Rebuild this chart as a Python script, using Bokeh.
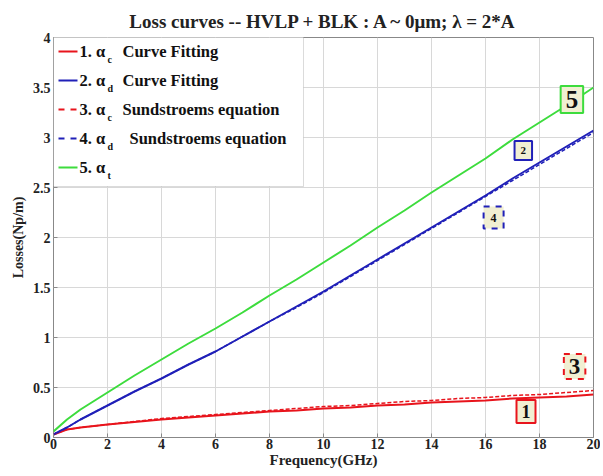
from bokeh.plotting import figure
from bokeh.models import Label, Arrow, BoxAnnotation, FixedTicker, Range1d
from bokeh.embed import file_html
from bokeh.resources import INLINE

# ---- data ----
freq = [0, 0.5, 1, 2, 3, 4, 5, 6, 7, 8, 9, 10, 11, 12, 13, 14, 15, 16, 17, 18, 19, 20]
alpha_c_fit = [0.03, 0.08, 0.10, 0.13, 0.155, 0.18, 0.20, 0.22, 0.24, 0.26, 0.27, 0.29,
               0.30, 0.32, 0.33, 0.35, 0.36, 0.37, 0.39, 0.40, 0.41, 0.43]
alpha_d_fit = [0.03, 0.10, 0.18, 0.32, 0.46, 0.59, 0.73, 0.86, 1.01, 1.16, 1.31, 1.46,
               1.62, 1.78, 1.94, 2.10, 2.26, 2.42, 2.59, 2.75, 2.91, 3.07]
alpha_c_sund = [0.03, 0.08, 0.10, 0.13, 0.16, 0.19, 0.21, 0.23, 0.25, 0.27, 0.29, 0.31,
                0.32, 0.34, 0.36, 0.37, 0.39, 0.40, 0.42, 0.43, 0.45, 0.47]
alpha_d_sund = [0.03, 0.10, 0.18, 0.32, 0.46, 0.59, 0.73, 0.86, 1.01, 1.16, 1.30, 1.45,
                1.61, 1.77, 1.93, 2.09, 2.25, 2.41, 2.57, 2.73, 2.89, 3.05]
alpha_t = [0.06, 0.18, 0.28, 0.45, 0.62, 0.78, 0.94, 1.09, 1.25, 1.42, 1.58, 1.75,
           1.92, 2.10, 2.27, 2.45, 2.62, 2.79, 2.98, 3.15, 3.32, 3.50]

x_ticks = [0, 2, 4, 6, 8, 10, 12, 14, 16, 18, 20]
y_ticks = [0, 0.5, 1, 1.5, 2, 2.5, 3, 3.5, 4]
y_tick_labels = ["0", "0.5", "1", "1.5", "2", "2.5", "3", "3.5", "4"]

legend_labels = [("1. α", "c", "Curve Fitting"),
                 ("2. α", "d", "Curve Fitting"),
                 ("3. α", "c", "Sundstroems equation"),
                 ("4. α", "d", "Sundstroems equation"),
                 ("5. α", "t", "")]

# callout tags: (text, x, y)
tags = [("1", 17.5, 0.26), ("2", 17.4, 2.87), ("3", 19.3, 0.71), ("4", 16.3, 2.20), ("5", 19.2, 3.38)]

RED = "#e8141c"
BLUE = "#2020b8"
GREEN = "#3ddc3d"
FONT = "Liberation Serif"

W, H = 600, 470
p = figure(width=W, height=H, output_backend="svg", toolbar_location=None,
           x_range=Range1d(0, 20), y_range=Range1d(0, 4),
           min_border_left=53, min_border_right=7, min_border_top=37, min_border_bottom=32,
           title="Loss curves -- HVLP + BLK : A ~ 0μm; λ = 2*A")
p.title.align = "center"
p.title.text_font = FONT
p.title.text_font_size = "19px"
p.title.text_font_style = "bold"
p.title.text_color = "#222222"
p.title.standoff = 12

p.outline_line_color = "#888888"
p.outline_line_width = 1
p.grid.grid_line_color = "#d8d8d8"
p.xaxis.ticker = FixedTicker(ticks=x_ticks)
p.yaxis.ticker = FixedTicker(ticks=y_ticks)
p.yaxis.major_label_overrides = {t: s for t, s in zip(y_ticks, y_tick_labels)}
for ax in (p.xaxis[0], p.yaxis[0]):
    ax.axis_line_color = None
    ax.major_tick_in = 4
    ax.major_tick_out = 0
    ax.major_tick_line_color = "#888888"
    ax.minor_tick_line_color = None
    ax.major_label_text_font = FONT
    ax.major_label_text_font_style = "bold"
    ax.major_label_text_font_size = "14px"
    ax.major_label_text_color = "#222222"
    ax.axis_label_text_font = FONT
    ax.axis_label_text_font_style = "bold"
    ax.axis_label_text_color = "#222222"
p.xaxis.axis_label = "Frequency(GHz)"
p.xaxis.axis_label_text_font_size = "15px"
p.xaxis.axis_label_standoff = 0
p.xaxis.major_label_standoff = 1
p.yaxis.axis_label = "Losses(Np/m)"
p.yaxis.axis_label_text_font_size = "14px"
p.yaxis.axis_label_standoff = 4
p.yaxis.major_label_standoff = 3

p.line(freq, alpha_c_fit, line_color=RED, line_width=2)
p.line(freq, alpha_d_fit, line_color=BLUE, line_width=2)
p.line(freq, alpha_c_sund, line_color=RED, line_width=1.5, line_dash="4 2")
p.line(freq, alpha_d_sund, line_color=BLUE, line_width=1.5, line_dash="4 2")
p.line(freq, alpha_t, line_color=GREEN, line_width=2)

# callout tags
tag_styles = {
    "1": dict(color=RED, dash="solid", size="18px", pad=5),
    "2": dict(color=BLUE, dash="solid", size="11px", pad=6),
    "3": dict(color=RED, dash="dashed", size="23px", pad=5),
    "4": dict(color=BLUE, dash="dashed", size="12px", pad=7),
    "5": dict(color=GREEN, dash="solid", size="25px", pad=5),
}
for t, tx, ty in tags:
    st = tag_styles[t]
    p.add_layout(Label(x=tx, y=ty, text=t, text_align="center", text_baseline="middle",
                       text_font=FONT, text_font_style="bold", text_font_size=st["size"],
                       text_color="#111111", background_fill_color="#f1efd2",
                       border_line_color=st["color"], border_line_width=2,
                       border_line_dash=st["dash"], padding=st["pad"]))

# custom legend (screen units, relative to the plot frame, y measured upward)
p.add_layout(BoxAnnotation(left=0, right=250, top=401, bottom=251,
                           left_units="screen", right_units="screen",
                           top_units="screen", bottom_units="screen",
                           fill_color="white", fill_alpha=1.0,
                           line_color="#888888", line_width=1))
legend_styles = [(RED, "solid"), (BLUE, "solid"), (RED, "dashed"), (BLUE, "dashed"), (GREEN, "solid")]
rest_offsets = [69, 69, 69, 76, 69]
for i, ((a, sub, rest), (col, dash)) in enumerate(zip(legend_labels, legend_styles)):
    yrow = 386 - 29 * i
    p.add_layout(Arrow(x_start=5, y_start=yrow, x_end=24, y_end=yrow,
                       start_units="screen", end_units="screen", end=None,
                       line_color=col, line_width=2, line_dash=dash))
    p.add_layout(Label(x=26, y=yrow, x_units="screen", y_units="screen", text=a,
                       text_baseline="middle", text_font=FONT, text_font_style="bold",
                       text_font_size="16.5px", text_color="#111111"))
    p.add_layout(Label(x=54, y=yrow - 8, x_units="screen", y_units="screen", text=sub,
                       text_baseline="middle", text_font=FONT, text_font_style="bold",
                       text_font_size="10px", text_color="#111111"))
    if rest:
        p.add_layout(Label(x=rest_offsets[i], y=yrow, x_units="screen", y_units="screen",
                           text=rest, text_baseline="middle", text_font=FONT,
                           text_font_style="bold", text_font_size="16.5px",
                           text_color="#111111"))

open("out.html", "w").write(file_html(p, INLINE))
